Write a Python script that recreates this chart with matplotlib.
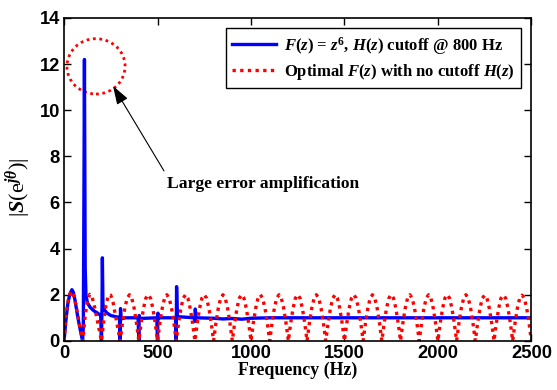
import matplotlib
matplotlib.use("Agg")
import matplotlib.pyplot as plt
import numpy as np
from matplotlib.patches import Ellipse

plt.rcParams['mathtext.fontset'] = 'custom'
plt.rcParams['mathtext.it'] = 'Liberation Serif:italic:bold'
plt.rcParams['mathtext.rm'] = 'Liberation Serif:bold'
plt.rcParams['mathtext.bf'] = 'Liberation Serif:bold'

# blue: F(z)=z^6, H(z) cutoff @ 800 Hz
blue_f = [0, 10, 20, 30, 42, 50, 60, 70, 80, 90, 99,
          103, 105, 107, 109, 111, 113, 117, 125, 140, 160, 180, 196, 200,
          203, 205, 208, 215, 230, 250, 275, 296, 300,
          302, 305, 330, 396, 400, 402, 405, 496, 500, 502, 505,
          596, 600, 602, 606, 696, 700, 702, 706,
          800, 850, 900, 950, 1000, 1100, 1500, 2000, 2500]
blue_v = [0, 0.9, 1.6, 2.0, 2.22, 2.1, 1.7, 1.2, 0.75, 0.35, 0,
          0.6, 3.8, 7.8, 12.2, 7.8, 3.2, 2.0, 1.65, 1.45, 1.3, 1.2, 1.1, 0,
          1.5, 3.6, 1.6, 1.35, 1.2, 1.1, 1.05, 1.02, 0,
          1.4, 0.95, 1.0, 1.0, 0, 1.1, 0.97, 1.0, 0, 1.2, 1.0,
          1.0, 0, 2.35, 1.05, 1.0, 0.84, 1.38, 1.0,
          0.98, 0.95, 0.97, 0.94, 0.98, 1.0, 1.0, 1.0, 1.0]

# red: optimal F(z) with no cutoff H(z), sampled every 12.5 Hz
red_f = np.arange(0, 2500.1, 12.5)
red_v = [0, 1.25, 1.9, 2.15, 2.0, 1.6, 1.05, 0.5,
         0, 1.05, 1.75, 2.02, 1.9, 1.5, 1.0, 0.5,
         0, 0.9, 1.6, 1.98, 1.98, 1.65, 1.1, 0.55,
         0, 0.77, 1.41, 1.85, 2.0, 1.85, 1.41, 0.77,
         0, 0.77, 1.41, 1.85, 2.0, 1.85, 1.41, 0.77,
         0, 0.77, 1.41, 1.85, 2.0, 1.85, 1.41, 0.77,
         0, 0.77, 1.41, 1.85, 2.0, 1.85, 1.41, 0.77,
         0, 0.77, 1.41, 1.85, 2.0, 1.85, 1.41, 0.77,
         0, 0.77, 1.41, 1.85, 2.0, 1.85, 1.41, 0.77,
         0, 0.77, 1.41, 1.85, 2.0, 1.85, 1.41, 0.77,
         0, 0.77, 1.41, 1.85, 2.0, 1.85, 1.41, 0.77,
         0, 0.77, 1.41, 1.85, 2.0, 1.85, 1.41, 0.77,
         0, 0.77, 1.41, 1.85, 2.0, 1.85, 1.41, 0.77,
         0, 0.77, 1.41, 1.85, 2.0, 1.85, 1.41, 0.77,
         0, 0.77, 1.41, 1.85, 2.0, 1.85, 1.41, 0.77,
         0, 0.77, 1.41, 1.85, 2.0, 1.85, 1.41, 0.77,
         0, 0.77, 1.41, 1.85, 2.0, 1.85, 1.41, 0.77,
         0, 0.77, 1.41, 1.85, 2.0, 1.85, 1.41, 0.77,
         0, 0.77, 1.41, 1.85, 2.0, 1.85, 1.41, 0.77,
         0, 0.77, 1.41, 1.85, 2.0, 1.85, 1.41, 0.77,
         0, 0.77, 1.41, 1.85, 2.0, 1.85, 1.41, 0.77,
         0, 0.77, 1.41, 1.85, 2.0, 1.85, 1.41, 0.77,
         0, 0.77, 1.41, 1.85, 1.98, 1.85, 1.41, 0.77,
         0, 0.77, 1.41, 1.85, 1.98, 1.85, 1.41, 0.77,
         0, 0.77, 1.41, 1.85, 1.98, 1.85, 1.41, 0.77,
         0]

xticks = [0, 500, 1000, 1500, 2000, 2500]
yticks = [0, 2, 4, 6, 8, 10, 12, 14]

serif = 'Liberation Serif'
sans = 'Liberation Sans'

fig = plt.figure(figsize=(5.57, 3.9), dpi=100)
ax = fig.add_axes([0.115, 0.126, 0.839, 0.828])

ax.plot(blue_f, blue_v, color='#0000ff', lw=2.4,
        label=r'$F$($z$) = $z^6$, $H$($z$) cutoff @ 800 Hz')
ax.plot(red_f, red_v, color='#ff0000', lw=2.4, linestyle=(0, (1, 1.3)),
        label=r'Optimal $F$($z$) with no cutoff $H$($z$)')

ax.add_patch(Ellipse((171, 11.9), 311, 2.4, fill=False, edgecolor='#ff0000',
                     lw=2.0, linestyle=(0, (1, 1.3))))
ax.annotate('Large error amplification', xy=(262, 11.05), xytext=(551, 6.8),
            fontfamily=serif, fontweight='bold', fontsize=12.6, va='center',
            arrowprops=dict(arrowstyle='-|>,head_length=0.9,head_width=0.3',
                            color='black', lw=0.8, shrinkA=2, shrinkB=0,
                            relpos=(0, 1)))

ax.set_xlim(0, 2500)
ax.set_ylim(0, 14)
ax.set_xticks(xticks)
ax.set_yticks(yticks)
ax.tick_params(direction='in', top=True, right=True, length=5, width=1,
               pad=3)
for lab in ax.get_xticklabels() + ax.get_yticklabels():
    lab.set_fontfamily(sans)
    lab.set_fontweight('bold')
    lab.set_fontsize(13.2)
for s in ax.spines.values():
    s.set_linewidth(1.2)

ax.set_xlabel('Frequency (Hz)', fontfamily=serif, fontweight='bold',
              fontsize=12.9, labelpad=0)
ax.set_ylabel(r'|$S$(e$^{j\theta}$)|', fontfamily=serif, fontsize=16)
ax.yaxis.set_label_coords(-0.066, 0.474)

leg = ax.legend(loc='upper right', prop={'family': serif, 'weight': 'bold',
                                         'size': 12},
                fancybox=False, edgecolor='black', framealpha=1,
                handlelength=2.6, borderaxespad=0.6, labelspacing=0.3,
                handletextpad=0.5, borderpad=0.4)
leg.get_frame().set_linewidth(1.0)

fig.savefig('out.png', dpi=100)
